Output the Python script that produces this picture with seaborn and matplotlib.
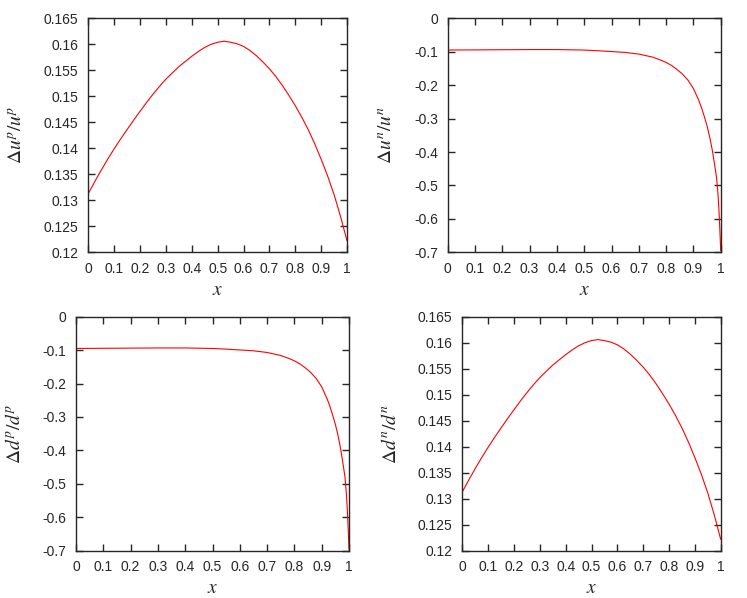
import numpy as np
import pandas as pd
import seaborn as sns
import matplotlib
matplotlib.use("Agg")
import matplotlib.pyplot as plt

# values
x_up = [0, 0.025, 0.05, 0.075, 0.1, 0.125, 0.15, 0.175, 0.2, 0.225, 0.25,
        0.275, 0.3, 0.325, 0.35, 0.375, 0.4, 0.425, 0.45, 0.475, 0.5, 0.525,
        0.55, 0.575, 0.6, 0.625, 0.65, 0.675, 0.7, 0.725, 0.75, 0.775, 0.8,
        0.825, 0.85, 0.875, 0.9, 0.925, 0.95, 0.975, 1.0]
ratio_up = [0.1313, 0.1336, 0.1358, 0.1379, 0.1399, 0.1418, 0.1436, 0.1454,
            0.1471, 0.1488, 0.1504, 0.1519, 0.1533, 0.1545, 0.1557, 0.1567,
            0.1577, 0.1586, 0.1594, 0.1600, 0.1604, 0.1606, 0.1604, 0.1601,
            0.1596, 0.1588, 0.1578, 0.1566, 0.1553, 0.1538, 0.1521, 0.1502,
            0.1482, 0.1460, 0.1436, 0.1409, 0.1379, 0.1347, 0.1311, 0.1269,
            0.1222]

x_un = [0, 0.1, 0.2, 0.3, 0.4, 0.5, 0.55, 0.6, 0.65, 0.7, 0.75, 0.78, 0.8,
        0.82, 0.84, 0.86, 0.88, 0.9, 0.92, 0.93, 0.94, 0.95, 0.96, 0.97,
        0.98, 0.985, 0.99, 0.994, 0.997, 1.0]
ratio_un = [-0.095, -0.0945, -0.094, -0.0935, -0.0935, -0.095, -0.097,
            -0.0995, -0.102, -0.107, -0.116, -0.125, -0.132, -0.141, -0.153,
            -0.167, -0.185, -0.210, -0.246, -0.268, -0.294, -0.322, -0.356,
            -0.398, -0.450, -0.478, -0.525, -0.580, -0.635, -0.695]

# d^p/d^p looks like u^n/u^n and d^n/d^n like u^p/u^p
x_dp, ratio_dp = x_un, ratio_un
x_dn, ratio_dn = x_up, ratio_up

xticks = [0, 0.1, 0.2, 0.3, 0.4, 0.5, 0.6, 0.7, 0.8, 0.9, 1]
yticks_pos = [0.12, 0.125, 0.13, 0.135, 0.14, 0.145, 0.15, 0.155, 0.16, 0.165]
yticks_neg = [-0.7, -0.6, -0.5, -0.4, -0.3, -0.2, -0.1, 0]

sns.set_style("ticks")
plt.rcParams["font.family"] = ["Liberation Sans", "DejaVu Sans"]
plt.rcParams["mathtext.fontset"] = "stix"
plt.rcParams["axes.unicode_minus"] = False
plt.rcParams["xtick.direction"] = "in"
plt.rcParams["ytick.direction"] = "in"

W, H = 747, 598
fig = plt.figure(figsize=(W / 100, H / 100), dpi=100)

def box(l, t, r, b):
    return [l / W, 1 - b / H, (r - l) / W, (b - t) / H]

panels = [
    (box(88.3, 18.3, 347, 252.3), x_up, ratio_up, yticks_pos, r"$\Delta u^p/u^p$"),
    (box(447.7, 18.3, 720.7, 252.3), x_un, ratio_un, yticks_neg, r"$\Delta u^n/u^n$"),
    (box(76, 316.7, 349, 550.7), x_dp, ratio_dp, yticks_neg, r"$\Delta d^p/d^p$"),
    (box(462.3, 316.7, 720.7, 550.7), x_dn, ratio_dn, yticks_pos, r"$\Delta d^n/d^n$"),
]

for rect, xs, ys, yt, lab in panels:
    ax = fig.add_axes(rect)
    df = pd.DataFrame({"x": xs, "y": ys})
    sns.lineplot(data=df, x="x", y="y", ax=ax, color="red", linewidth=0.8)
    ax.set_xlim(0, 1)
    ax.set_ylim(yt[0], yt[-1])
    ax.set_xticks(xticks)
    ax.set_xticklabels(["%g" % v for v in xticks])
    ax.set_yticks(yt)
    ax.set_yticklabels(["%g" % v for v in yt])
    ax.tick_params(which="both", top=True, right=True, length=5, width=1,
                   labelsize=10, pad=7)
    for s in ax.spines.values():
        s.set_linewidth(1.0)
        s.set_visible(True)
    ax.set_xlabel(r"$x$", fontsize=14, labelpad=4)
    ax.set_ylabel(lab, fontsize=14, labelpad=13)

fig.savefig("out.png", dpi=100)
